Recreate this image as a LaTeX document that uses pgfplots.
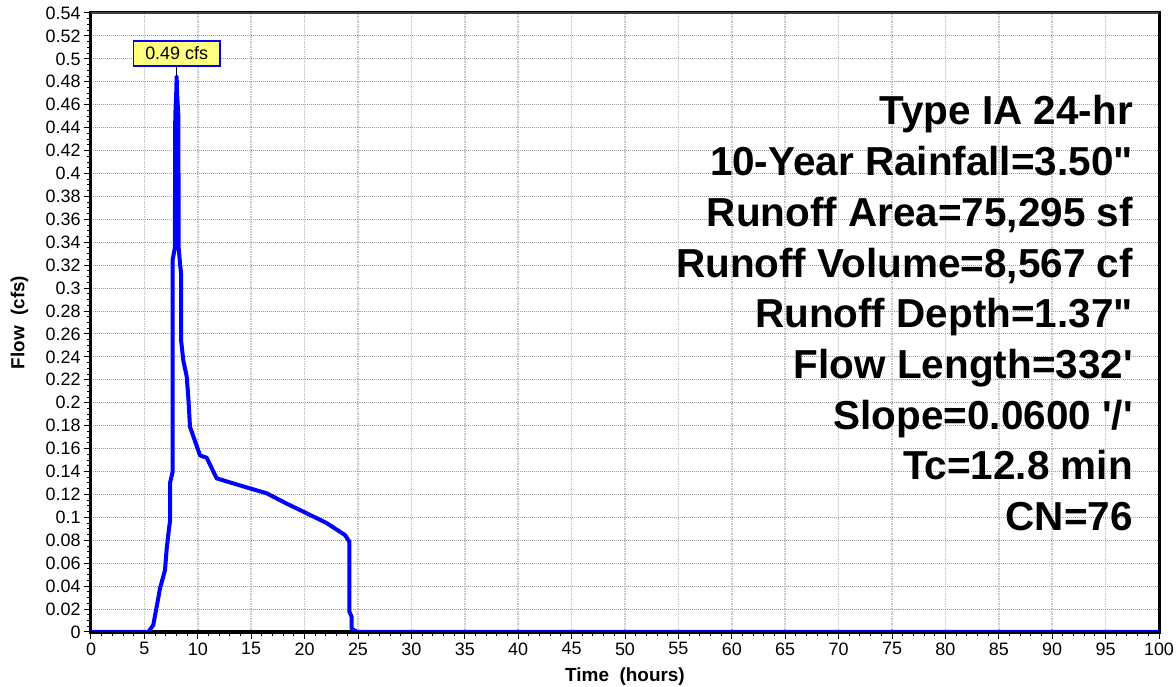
\documentclass[border=0pt]{standalone}
\usepackage{pgfplots}
\pgfplotsset{compat=1.18}
\usepackage{pgfplotstable}
\usepackage{fontspec}
\setmainfont{Liberation Sans}
\newfontfamily\plainLS{Liberation Sans}
\definecolor{hblue}{RGB}{0,0,255}
\definecolor{lbl}{RGB}{255,255,128}
\pgfplotstableread{
x y
0 0
5.37 0
5.83 0.006
6.15 0.022
6.46 0.038
6.93 0.054
7.09 0.073
7.33 0.092
7.40 0.097
7.40 0.130
7.65 0.140
7.65 0.325
7.85 0.335
7.89 0.45
7.98 0.47
8.02 0.4846
8.06 0.47
8.18 0.45
8.21 0.335
8.33 0.322
8.43 0.313
8.43 0.255
8.64 0.237
8.96 0.223
9.11 0.205
9.27 0.179
10.21 0.154
10.83 0.152
11.77 0.134
14.26 0.127
16.45 0.121
18.32 0.112
19.88 0.105
22.07 0.095
23.78 0.0846
24.19 0.0788
24.19 0.0177
24.4 0.0134
24.4 0.003
24.9 0
100 0
}\hydro
\begin{document}
\begin{tikzpicture}[x=1bp,y=1bp]
\begin{axis}[
  at={(0,0)}, anchor=south west,
  scale only axis, width=1068bp, height=619bp,
  xmin=0, xmax=100, ymin=0, ymax=0.54,
  xtick={0,5,...,100}, minor x tick num=4,
  ytick={0,0.02,0.04,0.06,0.08,0.1,0.12,0.14,0.16,0.18,0.2,0.22,0.24,0.26,0.28,0.3,0.32,0.34,0.36,0.38,0.4,0.42,0.44,0.46,0.48,0.5,0.52,0.54},
  minor y tick num=3,
  tick align=outside, tickpos=left,
  major tick length=7bp, minor tick length=4bp,
  tick style={black, line width=1bp},
  grid=major,
  x grid style={gray!45, line width=1.5bp, densely dotted},
  y grid style={gray!75, line width=1bp, densely dotted},
  axis line style={black, line width=3bp},
  tick label style={font=\fontsize{18}{20}\selectfont},
  /pgf/number format/assume math mode=true,
  yticklabel style={/pgf/number format/fixed, /pgf/number format/precision=2},
  xlabel={Time\ \ (hours)},
  ylabel={Flow\ \ (cfs)},
  label style={font=\fontsize{19}{21}\selectfont\bfseries},
  xlabel style={at={(axis description cs:0.5,-0.0727)}, anchor=center},
  ylabel style={at={(axis description cs:-0.0669,0.5)}, anchor=center, rotate=0},
]
\addplot[hblue, line width=4bp, line join=round] table[x=x,y=y] {\hydro};
\draw[black, line width=1.5bp] (axis cs:8.02,0.4939) -- (axis cs:8.02,0.4846);
\node[fill=lbl, draw=hblue, line width=1.5bp, inner xsep=12bp, inner ysep=3bp,
      minimum height=25bp, font=\fontsize{18}{20}\selectfont] at (axis cs:8.02,0.5048) {0.49 cfs};
\end{axis}
\draw[black, line width=3.5bp] (-1.5,-0.75) -- (1069.5,-0.75);
\draw[black!75, line width=2bp] (0,619) -- (1068,619);
\begin{scope}[every node/.style={anchor=base east, font=\plainLS\fontsize{40.6}{44}\selectfont\bfseries, inner sep=0pt}]
\node at (1042,507) {Type IA 24-hr};
\node at (1042,456.3) {10-Year Rainfall=3.50"};
\node at (1042,405.6) {Runoff Area=75,295 sf};
\node at (1042,354.9) {Runoff Volume=8,567 cf};
\node at (1042,304.2) {Runoff Depth=1.37"};
\node at (1042,253.5) {Flow Length=332'};
\node at (1042,202.8) {Slope=0.0600 '/'};
\node at (1042,152.1) {Tc=12.8 min};
\node at (1042,101.4) {CN=76};
\end{scope}
\pgfresetboundingbox
\path[use as bounding box] (-91,-55) rectangle (1085,632);
\end{tikzpicture}
\end{document}
